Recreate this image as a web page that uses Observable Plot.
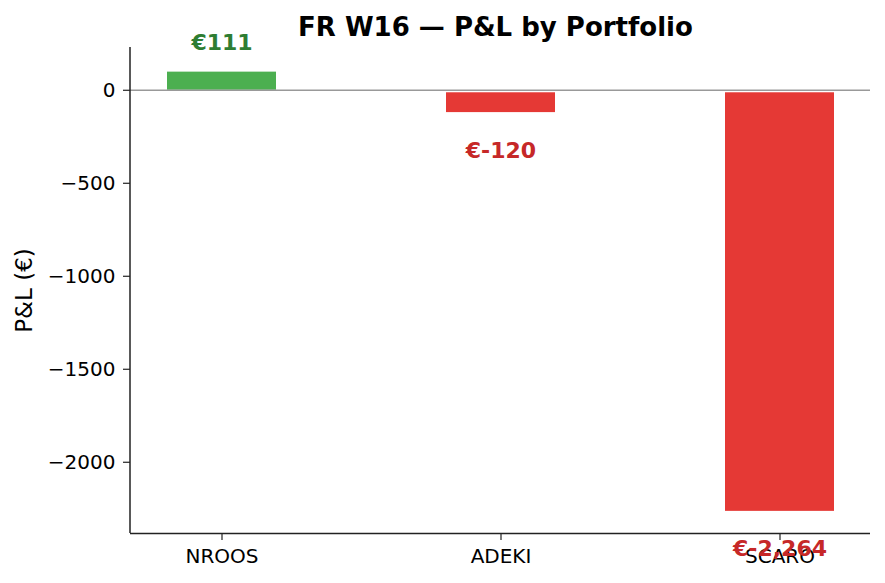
<!DOCTYPE html>
<html>
<head>
<meta charset="utf-8">
<script src="https://cdn.jsdelivr.net/npm/d3@7"></script>
<script src="https://cdn.jsdelivr.net/npm/@observablehq/plot@0.6"></script>
<style>
  html, body { margin: 0; padding: 0; background: #fff; }
  #wrap { position: relative; width: 885px; height: 583px; overflow: hidden; }
  #title { position: absolute; left: 130px; width: 731px; top: 14px; text-align: center;
           font: bold 26px "DejaVu Sans", sans-serif; line-height: 1; color: #000; white-space: nowrap; }
</style>
</head>
<body>
<div id="wrap"><div id="chart"></div><div id="title">FR W16 — P&amp;L by Portfolio</div></div>
<script>
const categories = ["NROOS", "ADEKI", "SCARO"];
const values = [111, -120, -2264];
const valueLabels = ["€111", "€-120", "€-2,264"];
const yTicks = [0, -500, -1000, -1500, -2000];
const yTickLabels = ["0", "\u2212500", "\u22121000", "\u22121500", "\u22122000"];
const yDomain = [-2383, 230];

const data = categories.map((c, i) => ({name: c, value: values[i], label: valueLabels[i]}));
const font = '"DejaVu Sans", sans-serif';

const spineLeft = (index, scales, values, dims) => {
  const l = d3.create("svg:line")
    .attr("x1", dims.marginLeft).attr("x2", dims.marginLeft)
    .attr("y1", dims.marginTop).attr("y2", dims.height - dims.marginBottom)
    .attr("stroke", "#222").attr("stroke-width", 1.5);
  return l.node();
};

const chart = Plot.plot({
  width: 885,
  height: 583,
  marginTop: 47,
  marginBottom: 50,
  marginLeft: 130,
  marginRight: 15,
  style: {fontFamily: font, fontSize: "20px", color: "#000", background: "#fff"},
  x: {domain: categories, paddingInner: 0.61, paddingOuter: 0.13},
  y: {domain: yDomain},
  marks: [
    Plot.barY(data, {x: "name", y1: 0, y2: "value", fill: d => d.value >= 0 ? "#4caf50" : "#e53935", insetTop: 2.5}),
    Plot.ruleY([0], {stroke: "#999", strokeWidth: 1.5}),
    Plot.ruleY([yDomain[0]], {stroke: "#222", strokeWidth: 1.5}),
    spineLeft,
    Plot.axisY({ticks: yTicks, tickSize: 7, tickPadding: 8, stroke: "#222", strokeWidth: 1.2,
      tickFormat: d => yTickLabels[yTicks.indexOf(d)], label: null, fontSize: 20}),
    Plot.axisX({tickSize: 7, tickPadding: 8, stroke: "#222", strokeWidth: 1.2, label: null, fontSize: 20}),
    Plot.text(data.filter(d => d.value >= 0), {x: "name", y: "value", text: "label", dy: -27,
      fill: "#2e7d32", fontWeight: "bold", fontSize: 22}),
    Plot.text(data.filter(d => d.value < 0), {x: "name", y: "value", text: "label", dy: 38,
      fill: "#c62828", fontWeight: "bold", fontSize: 22}),
    Plot.text(["P&L (€)"], {frameAnchor: "left", textAnchor: "middle", text: d => d, rotate: -90, dx: -106, fontSize: 23, fill: "#000"})
  ]
});
document.getElementById("chart").appendChild(chart);
</script>
</body>
</html>
